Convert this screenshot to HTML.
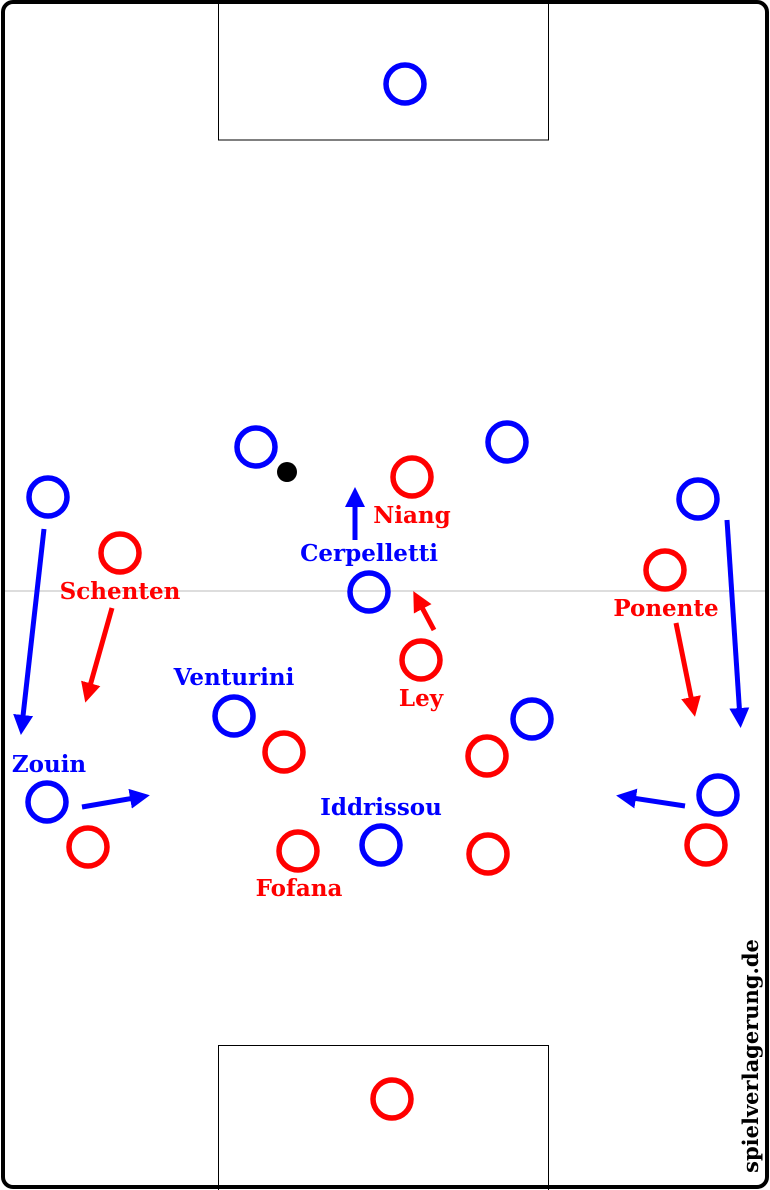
<!DOCTYPE html>
<html><head><meta charset="utf-8"><style>
html,body{margin:0;padding:0;background:#fff;}
svg{display:block;}
text{font-family:"DejaVu Serif","Liberation Serif",serif;font-weight:bold;font-size:23px;text-anchor:middle;}
</style></head><body>
<svg width="770" height="1190" viewBox="0 0 770 1190" xmlns="http://www.w3.org/2000/svg">
<defs>
<marker id="ab" markerWidth="4" markerHeight="4" refX="2" refY="2" orient="auto" markerUnits="strokeWidth"><path d="M0,0 L4,2 L0,4 z" fill="#0000ff"/></marker>
<marker id="ar" markerWidth="4" markerHeight="4" refX="2" refY="2" orient="auto" markerUnits="strokeWidth"><path d="M0,0 L4,2 L0,4 z" fill="#ff0000"/></marker>
</defs>
<rect x="3" y="2" width="764" height="1185" rx="10" fill="#fff" stroke="#000" stroke-width="4"/>
<line x1="5" y1="591" x2="765" y2="591" stroke="#bbb" stroke-width="1"/>
<rect x="218.5" y="2" width="330" height="138" fill="none" stroke="#000" stroke-width="1"/>
<rect x="218.5" y="1045.5" width="330" height="145" fill="none" stroke="#000" stroke-width="1"/>
<g fill="none" stroke="#0000ff" stroke-width="5.5">
<circle cx="405" cy="84" r="19"/><circle cx="256" cy="447" r="19"/><circle cx="507" cy="442" r="19"/>
<circle cx="48" cy="497" r="19"/><circle cx="698" cy="499" r="19"/><circle cx="369" cy="592" r="19"/>
<circle cx="234" cy="716" r="19"/><circle cx="532" cy="719" r="19"/><circle cx="718" cy="795" r="19"/>
<circle cx="47" cy="802" r="19"/><circle cx="381" cy="845" r="19"/>
</g>
<g fill="none" stroke="#ff0000" stroke-width="5.5">
<circle cx="412" cy="477" r="19"/><circle cx="120" cy="553" r="19"/><circle cx="665" cy="570" r="19"/>
<circle cx="421" cy="660" r="19"/><circle cx="284" cy="752" r="19"/><circle cx="487" cy="756" r="19"/>
<circle cx="88" cy="847" r="19"/><circle cx="298" cy="851" r="19"/><circle cx="488" cy="854" r="19"/>
<circle cx="706" cy="845" r="19"/><circle cx="392" cy="1099" r="19"/>
</g>
<circle cx="287" cy="472" r="10" fill="#000"/>
<g stroke="#0000ff" stroke-width="5" marker-end="url(#ab)">
<line x1="44" y1="529" x2="22" y2="725"/>
<line x1="355" y1="540" x2="355" y2="497"/>
<line x1="727" y1="520" x2="740" y2="718"/>
<line x1="82" y1="807" x2="140" y2="797"/>
<line x1="685" y1="806" x2="626" y2="797"/>
</g>
<g stroke="#ff0000" stroke-width="5" marker-end="url(#ar)">
<line x1="112" y1="608" x2="88" y2="693"/>
<line x1="434" y1="630" x2="418" y2="600"/>
<line x1="676" y1="623" x2="693" y2="707"/>
</g>
<g fill="#ff0000">
<text x="412" y="523">Niang</text>
<text x="120" y="599">Schenten</text>
<text x="666" y="616">Ponente</text>
<text x="421" y="706">Ley</text>
<text x="299" y="896">Fofana</text>
</g>
<g fill="#0000ff">
<text x="369" y="561">Cerpelletti</text>
<text x="234" y="685">Venturini</text>
<text x="49" y="772">Zouin</text>
<text x="381" y="815">Iddrissou</text>
</g>
<text x="0" y="0" fill="#000" style="font-size:21px" transform="translate(758,1056) rotate(-90)">spielverlagerung.de</text>
</svg>
</body></html>
